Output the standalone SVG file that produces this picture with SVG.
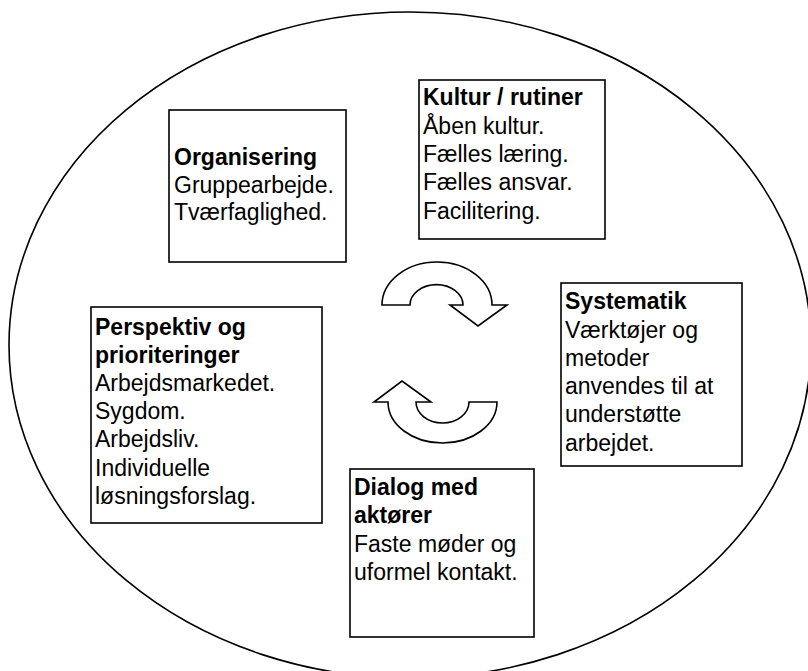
<svg xmlns="http://www.w3.org/2000/svg" width="808" height="671" viewBox="0 0 808 671">
  <style>
    .box { fill: #ffffff; stroke: #000000; stroke-width: 1.6; }
    .frame { fill: #ffffff; stroke: #000000; stroke-width: 1.6; }
    .cycle { fill: #ffffff; stroke: #000000; stroke-width: 1.6; stroke-linejoin: miter; }
    text { font-family: "Liberation Sans", Arial, sans-serif; font-size: 23px; fill: #000000; }
    .h { font-weight: bold; }
  </style>

  <!-- outer frame -->
  <ellipse class="frame" cx="410" cy="345" rx="401" ry="333"/>

  <!-- cycle arrows -->
  <g id="connectors">
    <path class="cycle" d="M382,305 A55,43 0 0 1 492,305 L507,305 L478,326 L450,305 L463,305 A26,20 0 0 0 410,305 Z"/>
    <path class="cycle" d="M497,402 A54.5,41 0 0 1 388,402 L374,402 L402,381 L431,402 L416,402 A26.5,21 0 0 0 469,402 Z"/>
  </g>

  <g id="organisering">
    <rect class="box" x="169" y="110" width="177" height="152"/>
    <text x="174" y="165" class="h">Organisering</text>
    <text x="174" y="193">Gruppearbejde.</text>
    <text x="174" y="220">Tværfaglighed.</text>
  </g>

  <g id="kultur">
    <rect class="box" x="419" y="80" width="186" height="159"/>
    <text x="423" y="105" class="h">Kultur / rutiner</text>
    <text x="423" y="134">Åben kultur.</text>
    <text x="423" y="162">Fælles læring.</text>
    <text x="423" y="190">Fælles ansvar.</text>
    <text x="423" y="219">Facilitering.</text>
  </g>

  <g id="systematik">
    <rect class="box" x="561" y="283" width="181" height="183"/>
    <text x="565" y="309" class="h">Systematik</text>
    <text x="565" y="338">Værktøjer og</text>
    <text x="565" y="366">metoder</text>
    <text x="565" y="394">anvendes til at</text>
    <text x="565" y="422">understøtte</text>
    <text x="565" y="451">arbejdet.</text>
  </g>

  <g id="perspektiv">
    <rect class="box" x="91" y="307" width="231" height="216"/>
    <text x="95" y="335" class="h">Perspektiv og</text>
    <text x="95" y="363" class="h">prioriteringer</text>
    <text x="95" y="391">Arbejdsmarkedet.</text>
    <text x="95" y="419">Sygdom.</text>
    <text x="95" y="447">Arbejdsliv.</text>
    <text x="95" y="476">Individuelle</text>
    <text x="95" y="504">løsningsforslag.</text>
  </g>

  <g id="dialog">
    <rect class="box" x="350" y="469" width="184" height="168"/>
    <text x="354" y="495" class="h">Dialog med</text>
    <text x="354" y="523" class="h">aktører</text>
    <text x="354" y="552">Faste møder og</text>
    <text x="354" y="580">uformel kontakt.</text>
  </g>
</svg>
